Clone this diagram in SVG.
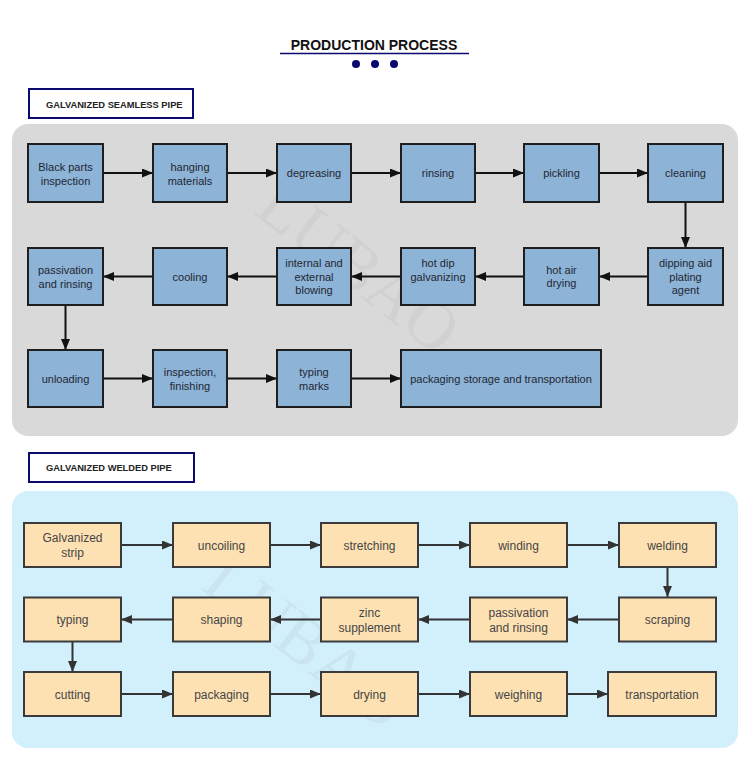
<svg xmlns="http://www.w3.org/2000/svg" width="750" height="757" viewBox="0 0 750 757">
<style>
  .title { font-family: "Liberation Sans", Arial, sans-serif; font-weight: bold; font-size: 14px; fill: #111; }
  .lbl { font-family: "Liberation Sans", Arial, sans-serif; font-weight: bold; font-size: 9.3px; fill: #222; }
  .lblbox { fill: #fff; stroke: #0a0a6e; stroke-width: 2; }
  .bnode rect { fill: #8db3d7; stroke: #1e1e1e; stroke-width: 2; }
  .bnode text { font-family: "Liberation Sans", Arial, sans-serif; font-size: 11px; fill: #1f2733; text-anchor: middle; }
  .onode rect { fill: #fee1b3; stroke: #3a3a3a; stroke-width: 2; }
  .onode text { font-family: "Liberation Sans", Arial, sans-serif; font-size: 12px; fill: #454545; text-anchor: middle; }
  .ca line { stroke: #111; stroke-width: 2; marker-end: url(#ah1); }
  .cb line { stroke: #333; stroke-width: 2; marker-end: url(#ah2); }
  .wm { font-family: "Liberation Serif", "Times New Roman", serif; font-size: 68px; fill: #9a9a9a; fill-opacity: 0.12; }
</style>
<defs>
  <marker id="ah1" markerUnits="userSpaceOnUse" markerWidth="11" markerHeight="9" refX="11" refY="4.5" orient="auto">
    <path d="M0,0 L11,4.5 L0,9 z" fill="#111"/>
  </marker>
  <marker id="ah2" markerUnits="userSpaceOnUse" markerWidth="11" markerHeight="9" refX="11" refY="4.5" orient="auto">
    <path d="M0,0 L11,4.5 L0,9 z" fill="#333"/>
  </marker>
</defs>
<rect width="750" height="757" fill="#ffffff"/>

<g id="header">
  <text class="title" x="374" y="50" text-anchor="middle">PRODUCTION PROCESS</text>
  <line x1="280" y1="53.5" x2="469" y2="53.5" stroke="#0a0a6e" stroke-width="1.5"/>
  <circle cx="356" cy="64" r="4" fill="#0a0a6e"/>
  <circle cx="375" cy="64" r="4" fill="#0a0a6e"/>
  <circle cx="394" cy="64" r="4" fill="#0a0a6e"/>
</g>

<g id="label-seamless">
  <rect class="lblbox" x="29" y="89" width="164" height="29"/>
  <text class="lbl" x="46" y="107.5">GALVANIZED SEAMLESS PIPE</text>
</g>
<rect id="panel-seamless" x="12" y="124" width="726" height="312" rx="16" fill="#d9d9d9"/>
<text class="wm" transform="translate(345,285) rotate(38)" text-anchor="middle">LUBAO</text>

<g id="label-welded">
  <rect class="lblbox" x="29" y="453" width="165" height="29"/>
  <text class="lbl" x="46" y="471">GALVANIZED WELDED PIPE</text>
</g>
<rect id="panel-welded" x="12" y="491" width="726" height="257" rx="16" fill="#d1f0fc"/>
<text class="wm" transform="translate(292,660) rotate(38)" text-anchor="middle">LUBAO</text>

<g id="connectors-seamless" class="ca">
  <line x1="103" y1="173" x2="153" y2="173"/>
  <line x1="227" y1="173" x2="277" y2="173"/>
  <line x1="351" y1="173" x2="401" y2="173"/>
  <line x1="475" y1="173" x2="524" y2="173"/>
  <line x1="599" y1="173" x2="648" y2="173"/>
  <line x1="685.5" y1="202" x2="685.5" y2="248"/>
  <line x1="648" y1="276.5" x2="599" y2="276.5"/>
  <line x1="524" y1="276.5" x2="475" y2="276.5"/>
  <line x1="401" y1="276.5" x2="351" y2="276.5"/>
  <line x1="277" y1="276.5" x2="227" y2="276.5"/>
  <line x1="153" y1="276.5" x2="103" y2="276.5"/>
  <line x1="65.5" y1="305" x2="65.5" y2="350"/>
  <line x1="103" y1="378.5" x2="153" y2="378.5"/>
  <line x1="227" y1="378.5" x2="277" y2="378.5"/>
  <line x1="351" y1="378.5" x2="401" y2="378.5"/>
</g>

<g id="s1" class="bnode"><rect x="28" y="144" width="75" height="58"/><text x="65.5" y="171">Black parts</text><text x="65.5" y="184.5">inspection</text></g>
<g id="s2" class="bnode"><rect x="153" y="144" width="74" height="58"/><text x="190" y="171">hanging</text><text x="190" y="184.5">materials</text></g>
<g id="s3" class="bnode"><rect x="277" y="144" width="74" height="58"/><text x="314" y="177">degreasing</text></g>
<g id="s4" class="bnode"><rect x="401" y="144" width="74" height="58"/><text x="438" y="177">rinsing</text></g>
<g id="s5" class="bnode"><rect x="524" y="144" width="75" height="58"/><text x="561.5" y="177">pickling</text></g>
<g id="s6" class="bnode"><rect x="648" y="144" width="75" height="58"/><text x="685.5" y="177">cleaning</text></g>

<g id="s7" class="bnode"><rect x="648" y="248" width="75" height="57"/><text x="685.5" y="267">dipping aid</text><text x="685.5" y="280.5">plating</text><text x="685.5" y="294">agent</text></g>
<g id="s8" class="bnode"><rect x="524" y="248" width="75" height="57"/><text x="561.5" y="273.5">hot air</text><text x="561.5" y="287">drying</text></g>
<g id="s9" class="bnode"><rect x="401" y="248" width="74" height="57"/><text x="438" y="267">hot dip</text><text x="438" y="280.5">galvanizing</text></g>
<g id="s10" class="bnode"><rect x="277" y="248" width="74" height="57"/><text x="314" y="267">internal and</text><text x="314" y="280.5">external</text><text x="314" y="294">blowing</text></g>
<g id="s11" class="bnode"><rect x="153" y="248" width="74" height="57"/><text x="190" y="280.5">cooling</text></g>
<g id="s12" class="bnode"><rect x="28" y="248" width="75" height="57"/><text x="65.5" y="274">passivation</text><text x="65.5" y="287.5">and rinsing</text></g>

<g id="s13" class="bnode"><rect x="28" y="350" width="75" height="57"/><text x="65.5" y="382.5">unloading</text></g>
<g id="s14" class="bnode"><rect x="153" y="350" width="74" height="57"/><text x="190" y="376">inspection,</text><text x="190" y="389.5">finishing</text></g>
<g id="s15" class="bnode"><rect x="277" y="350" width="74" height="57"/><text x="314" y="376">typing</text><text x="314" y="389.5">marks</text></g>
<g id="s16" class="bnode"><rect x="401" y="350" width="200" height="57"/><text x="501" y="382.5">packaging storage and transportation</text></g>

<g id="connectors-welded" class="cb">
  <line x1="121" y1="545" x2="173" y2="545"/>
  <line x1="270" y1="545" x2="321" y2="545"/>
  <line x1="418" y1="545" x2="470" y2="545"/>
  <line x1="567" y1="545" x2="619" y2="545"/>
  <line x1="667.5" y1="567" x2="667.5" y2="597"/>
  <line x1="619" y1="619.5" x2="567" y2="619.5"/>
  <line x1="470" y1="619.5" x2="418" y2="619.5"/>
  <line x1="321" y1="619.5" x2="270" y2="619.5"/>
  <line x1="173" y1="619.5" x2="121" y2="619.5"/>
  <line x1="72.5" y1="642" x2="72.5" y2="672"/>
  <line x1="121" y1="694" x2="173" y2="694"/>
  <line x1="270" y1="694" x2="321" y2="694"/>
  <line x1="418" y1="694" x2="470" y2="694"/>
  <line x1="567" y1="694" x2="608" y2="694"/>
</g>

<g id="w1" class="onode"><rect x="24" y="523" width="97" height="44"/><text x="72.5" y="541.5">Galvanized</text><text x="72.5" y="557">strip</text></g>
<g id="w2" class="onode"><rect x="173" y="523" width="97" height="44"/><text x="221.5" y="549.5">uncoiling</text></g>
<g id="w3" class="onode"><rect x="321" y="523" width="97" height="44"/><text x="369.5" y="549.5">stretching</text></g>
<g id="w4" class="onode"><rect x="470" y="523" width="97" height="44"/><text x="518.5" y="549.5">winding</text></g>
<g id="w5" class="onode"><rect x="619" y="523" width="97" height="44"/><text x="667.5" y="549.5">welding</text></g>

<g id="w6" class="onode"><rect x="619" y="597.5" width="97" height="44"/><text x="667.5" y="624">scraping</text></g>
<g id="w7" class="onode"><rect x="470" y="597.5" width="97" height="44"/><text x="518.5" y="616.5">passivation</text><text x="518.5" y="632">and rinsing</text></g>
<g id="w8" class="onode"><rect x="321" y="597.5" width="97" height="44"/><text x="369.5" y="616.5">zinc</text><text x="369.5" y="632">supplement</text></g>
<g id="w9" class="onode"><rect x="173" y="597.5" width="97" height="44"/><text x="221.5" y="624">shaping</text></g>
<g id="w10" class="onode"><rect x="24" y="597.5" width="97" height="44"/><text x="72.5" y="624">typing</text></g>

<g id="w11" class="onode"><rect x="24" y="672" width="97" height="44"/><text x="72.5" y="698.5">cutting</text></g>
<g id="w12" class="onode"><rect x="173" y="672" width="97" height="44"/><text x="221.5" y="698.5">packaging</text></g>
<g id="w13" class="onode"><rect x="321" y="672" width="97" height="44"/><text x="369.5" y="698.5">drying</text></g>
<g id="w14" class="onode"><rect x="470" y="672" width="97" height="44"/><text x="518.5" y="698.5">weighing</text></g>
<g id="w15" class="onode"><rect x="608" y="672" width="108" height="44"/><text x="662" y="698.5">transportation</text></g>
</svg>
